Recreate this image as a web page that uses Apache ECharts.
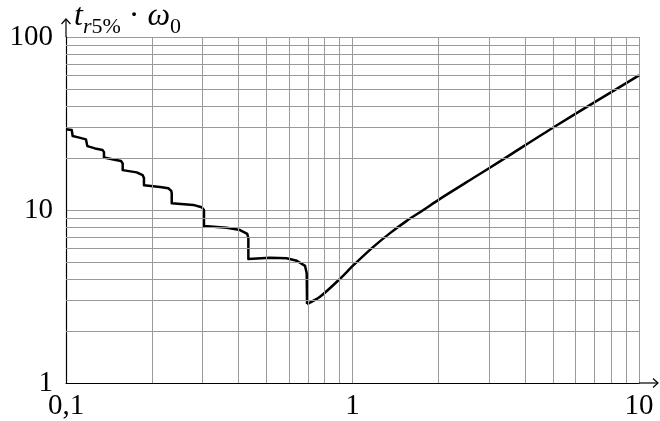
<!DOCTYPE html>
<html lang="fr">
<head>
  <meta charset="UTF-8">
  <title>t r5% · ω0</title>
  <style>
    html, body { margin: 0; padding: 0; background: #fff; }
    #chart { width: 660px; height: 421px; }
  </style>
</head>
<body>
  <div id="chart"></div>
</body>
<script src="https://cdn.jsdelivr.net/npm/echarts@6/dist/echarts.min.js"></script>
<script>
  // amortissement zeta -> temps de réponse à 5% (x w0)
  var stepZeta = [
    0.100, 0.1047, 0.1055, 0.1055,
    0.1104, 0.1174, 0.1187, 0.1187,
    0.1263, 0.1342, 0.1357, 0.1357,
    0.1463, 0.1556, 0.1577, 0.1577,
    0.1765, 0.1852, 0.1871, 0.1871,
    0.2129, 0.2276, 0.2330, 0.2339, 0.2339,
    0.278, 0.2976, 0.3031, 0.3031,
    0.364, 0.405, 0.4293, 0.433, 0.433,
    0.515, 0.589, 0.639, 0.683, 0.692, 0.694
  ]
  var stepTime = [
    29.3, 29.0, 28.6, 26.8,
    26.3, 25.6, 25.0, 23.4,
    22.7, 22.2, 21.6, 20.1,
    19.6, 19.2, 18.6, 17.0,
    16.5, 15.9, 15.3, 13.9,
    13.6, 13.35, 12.9, 12.5, 10.93,
    10.7, 10.37, 10.0, 8.08,
    7.90, 7.66, 7.27, 6.86, 5.21,
    5.30, 5.26, 5.09, 4.75, 4.31, 2.86
  ]
  var riseZeta = [0.694, 0.77, 0.904, 1.006, 1.182, 1.352, 1.546, 1.767, 2.02, 2.64, 3.27, 3.64, 5.02, 7.12, 10]
  var riseTime = [2.86, 3.15, 4.0, 4.78, 6.12, 7.35, 8.65, 10.0, 11.6, 15.3, 19.1, 21.4, 30.0, 42.7, 60.0]

  // quadrillage secondaire
  var xMinor = [0.2, 0.3, 0.4, 0.5, 0.6, 0.7, 0.8, 0.9, 2, 3, 4, 5, 6, 7, 8, 9]
  var yMinor = [2, 3, 4, 5, 6, 7, 8, 9, 20, 30, 40, 50, 60, 70, 80, 90]

  var xRange = [0.1, 10]
  var yRange = [1, 100]

  var serif = '"Liberation Serif", "DejaVu Serif", serif'
  var gridColor = '#9a9a9a'

  function pairs(xs, ys) {
    var res = []
    for (var i = 0; i < xs.length; i++) res.push([xs[i], ys[i]])
    return res
  }

  var myChart = echarts.init(document.getElementById('chart'), null, { renderer: 'canvas' })

  var minorLines = []
  xMinor.forEach(function (v) { minorLines.push({ xAxis: v }) })
  yMinor.forEach(function (v) { minorLines.push({ yAxis: v }) })

  var option = {
    animation: false,
    backgroundColor: '#fff',
    grid: { left: 66, right: 21, top: 37, bottom: 38, containLabel: false },
    xAxis: {
      type: 'log',
      logBase: 10,
      min: xRange[0],
      max: xRange[1],
      axisLine: { show: true, onZero: false, lineStyle: { color: '#000', width: 1.2 } },
      axisTick: { show: false },
      splitLine: { show: true, lineStyle: { color: gridColor, width: 1 } },
      axisLabel: {
        margin: 9,
        color: '#000',
        fontFamily: serif,
        fontSize: 29,
        showMinLabel: true,
        showMaxLabel: true,
        formatter: function (v) {
          return v < 1 ? v.toFixed(1).replace('.', ',') : String(Math.round(v))
        }
      }
    },
    yAxis: {
      type: 'log',
      logBase: 10,
      min: yRange[0],
      max: yRange[1],
      axisLine: { show: true, onZero: false, lineStyle: { color: '#000', width: 1.2 } },
      axisTick: { show: false },
      splitLine: { show: true, lineStyle: { color: gridColor, width: 1 } },
      axisLabel: {
        margin: 13,
        color: '#000',
        fontFamily: serif,
        fontSize: 29,
        showMinLabel: true,
        showMaxLabel: true,
        formatter: function (v) { return String(Math.round(v)) }
      }
    },
    series: [
      {
        name: 'grille',
        type: 'line',
        data: [],
        silent: true,
        z: 1,
        markLine: {
          silent: true,
          symbol: 'none',
          label: { show: false },
          lineStyle: { color: gridColor, width: 1, type: 'solid' },
          data: minorLines
        }
      },
      {
        name: 'paliers',
        type: 'line',
        data: pairs(stepZeta, stepTime),
        showSymbol: false,
        smooth: false,
        z: 3,
        lineStyle: { color: '#000', width: 2.5, join: 'round' }
      },
      {
        name: 'apériodique',
        type: 'line',
        data: pairs(riseZeta, riseTime),
        showSymbol: false,
        smooth: 0.3,
        z: 3,
        lineStyle: { color: '#000', width: 2.5 }
      }
    ]
  }
  myChart.setOption(option)

  // flèches au bout des axes + titre de l'axe y
  var o = myChart.convertToPixel({ gridIndex: 0 }, [xRange[0], yRange[0]])
  var xe = myChart.convertToPixel({ gridIndex: 0 }, [xRange[1], yRange[0]])
  var ye = myChart.convertToPixel({ gridIndex: 0 }, [xRange[0], yRange[1]])
  var ax = xe[0] + 19, ay = ye[1] - 18
  var arrowStyle = { stroke: '#000', lineWidth: 1.2, fill: null }

  myChart.setOption({
    graphic: [
      { type: 'line', shape: { x1: xe[0], y1: o[1], x2: ax, y2: o[1] }, style: arrowStyle, z: 10 },
      { type: 'polyline', shape: { points: [[ax - 5, o[1] - 4.5], [ax, o[1]], [ax - 5, o[1] + 4.5]] }, style: arrowStyle, z: 10 },
      { type: 'line', shape: { x1: o[0], y1: ye[1], x2: o[0], y2: ay }, style: arrowStyle, z: 10 },
      { type: 'polyline', shape: { points: [[o[0] - 4.5, ay + 5], [o[0], ay], [o[0] + 4.5, ay + 5]] }, style: arrowStyle, z: 10 },
      {
        type: 'text',
        left: 74,
        top: 1,
        z: 10,
        style: {
          text: '{m|t}{si|r}{s|5%}{d| · }{m|ω}{s|0}',
          fill: '#000',
          rich: {
            m: { fontFamily: serif, fontStyle: 'italic', fontSize: 32, lineHeight: 32, verticalAlign: 'bottom', padding: [0, 0, 5, 0] },
            si: { fontFamily: serif, fontStyle: 'italic', fontSize: 22, lineHeight: 22, verticalAlign: 'bottom' },
            s: { fontFamily: serif, fontSize: 22, lineHeight: 22, verticalAlign: 'bottom' },
            d: { fontFamily: serif, fontSize: 32, lineHeight: 32, verticalAlign: 'bottom', padding: [0, 0, 5, 0] }
          }
        }
      }
    ]
  })

  window.addEventListener('resize', function () {
    myChart.resize()
  })
</script>
</html>
